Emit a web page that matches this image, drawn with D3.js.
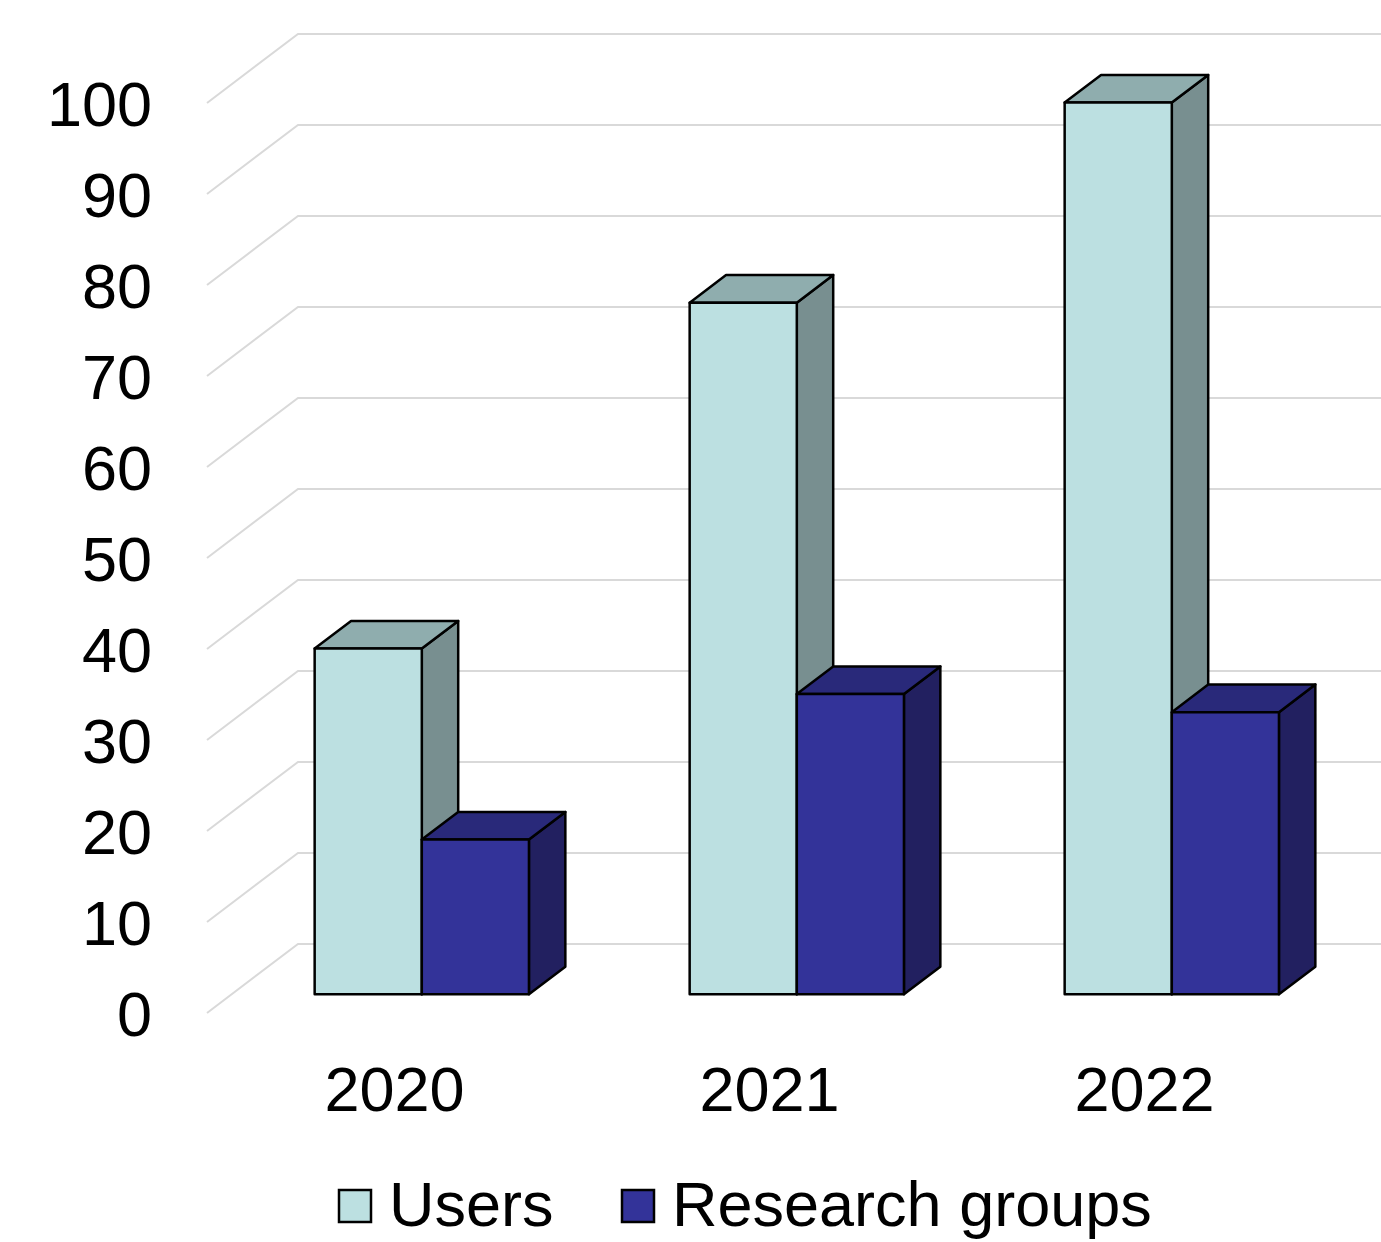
<!DOCTYPE html>
<html>
<head>
<meta charset="utf-8">
<script src="https://cdnjs.cloudflare.com/ajax/libs/d3/7.8.5/d3.min.js"></script>
<style>
  body { margin: 0; background: #fff; }
  svg { display: block; font-family: 'Liberation Sans', Arial, sans-serif; }
</style>
</head>
<body>
<div id="chart"></div>
<script>
const years = ['2020', '2021', '2022'];
const seriesNames = ['Users', 'Research groups'];
const users = [38, 76, 98];
const researchGroups = [17, 33, 31];
const yTicks = [0, 10, 20, 30, 40, 50, 60, 70, 80, 90, 100];

const width = 1381, height = 1242;
const depth = { dx: 91, dy: 69 };        // floor depth in projection
const barFront = 0.3, barBack = 0.7;     // bar slice inside the depth

const colors = {
    'Users': { front: '#bce0e1', top: '#8fadae', side: '#788f90' },
    'Research groups': { front: '#333399', top: '#29297a', side: '#222060' }
};

const svg = d3.select('#chart')
    .append('svg')
    .attr('width', width)
    .attr('height', height);

const x = d3.scaleBand()
    .domain(years)
    .range([207, 1332]);

const xInner = d3.scaleBand()
    .domain(seriesNames)
    .range([0, x.bandwidth()])
    .paddingOuter(0.75);

const y = d3.scaleLinear()
    .domain([0, 100])
    .range([1013, 103]);

// gridlines: side wall diagonal + back wall
const grid = svg.append('g');
yTicks.forEach(t => {
    const yf = y(t);
    grid.append('path')
        .attr('d', `M${x.range()[0]},${yf} L${x.range()[0] + depth.dx},${yf - depth.dy} L${width + 10},${yf - depth.dy}`)
        .attr('fill', 'none')
        .attr('stroke', '#d9d9d9')
        .attr('stroke-width', 2);
});

// y tick labels
svg.append('g')
    .selectAll('text')
    .data(yTicks)
    .enter()
    .append('text')
    .attr('x', 152)
    .attr('y', d => y(d))
    .attr('dy', '0.36em')
    .attr('text-anchor', 'end')
    .style('font-size', '63px')
    .text(d => d);

// bars
const data = [];
years.forEach((yr, i) => {
    data.push({ year: yr, series: 'Users', value: users[i] });
    data.push({ year: yr, series: 'Research groups', value: researchGroups[i] });
});

const bars = svg.append('g')
    .attr('stroke', '#000')
    .attr('stroke-width', 2.5)
    .attr('stroke-linejoin', 'round');

data.forEach(d => {
    const ox = barFront * depth.dx, oy = barFront * depth.dy;
    const bx = (barBack - barFront) * depth.dx, by = (barBack - barFront) * depth.dy;
    const x0 = x(d.year) + xInner(d.series) + ox;
    const x1 = x0 + xInner.bandwidth();
    const yb = y(0) - oy + 2;
    const yt = y(d.value) - oy + 2;
    const c = colors[d.series];
    const g = bars.append('g');
    // side
    g.append('path')
        .attr('d', `M${x1},${yb} L${x1 + bx},${yb - by} L${x1 + bx},${yt - by} L${x1},${yt} Z`)
        .attr('fill', c.side);
    // top
    g.append('path')
        .attr('d', `M${x0},${yt} L${x0 + bx},${yt - by} L${x1 + bx},${yt - by} L${x1},${yt} Z`)
        .attr('fill', c.top);
    // front
    g.append('rect')
        .attr('x', x0)
        .attr('y', yt)
        .attr('width', x1 - x0)
        .attr('height', yb - yt)
        .attr('fill', c.front);
});

// category labels
svg.append('g')
    .selectAll('text')
    .data(years)
    .enter()
    .append('text')
    .attr('x', d => x(d) + x.bandwidth() / 2)
    .attr('y', 1111)
    .attr('text-anchor', 'middle')
    .style('font-size', '63px')
    .text(d => d);

// legend
const legendX = [339, 622];
const legend = svg.append('g');
seriesNames.forEach((s, i) => {
    legend.append('rect')
        .attr('x', legendX[i])
        .attr('y', 1190)
        .attr('width', 32)
        .attr('height', 32)
        .attr('fill', colors[s].front)
        .attr('stroke', '#000')
        .attr('stroke-width', 2.5);
    legend.append('text')
        .attr('x', legendX[i] + 50)
        .attr('y', 1226)
        .style('font-size', '63px')
        .text(s);
});
</script>
</body>
</html>
